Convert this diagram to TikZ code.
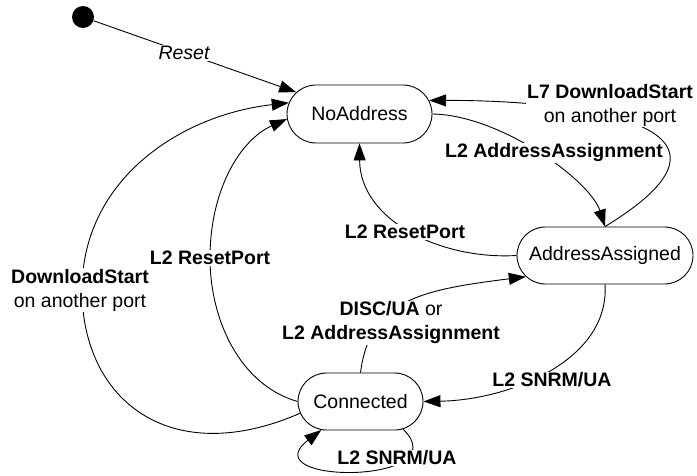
\documentclass[tikz,border=0pt]{standalone}
\usepackage{fontspec}
\setmainfont{Liberation Sans}
\usetikzlibrary{shapes.misc,arrows.meta}
\begin{document}
\begin{tikzpicture}[x=1pt,y=-1pt,
  state/.style={rounded rectangle, draw, line width=0.9pt, minimum height=57pt, inner sep=0pt, font=\fontsize{19.5}{24}\selectfont},
  lbl/.style={fill=white, inner sep=1pt, align=center, font=\fontsize{19.5}{24}\selectfont},
  edge/.style={line width=0.9pt, -{Triangle[length=17pt,width=12pt]}}]
\useasboundingbox (0,0) rectangle (697,476);
\node[state, minimum width=145pt, minimum height=58pt] (NA) at (359.5,114) {\makebox[0pt]{NoAddress}};
\node[state, minimum width=176pt] (AA) at (605,255.5) {\makebox[0pt]{AddressAssigned}};
\node[state, minimum width=125pt] (CO) at (360.5,401.5) {\makebox[0pt]{Connected}};
\node[circle, fill, inner sep=0pt, minimum size=22pt] (init) at (83,17) {};
% edges
\draw[edge] (init) -- (NA.161);
\draw[edge] (AA.north) .. controls (780,120) and (560,100) .. (NA.11);
\draw[edge] (NA.east) .. controls (500,115) and (590,180) .. (AA.north);
\draw[edge] (AA.west) .. controls (440,260) and (360,220) .. (NA.south);
\draw[edge] (CO.west) .. controls (240,385) and (210,320) .. (210,258) .. controls (210,190) and (240,140) .. (NA.184);
\draw[edge] (CO.191) .. controls (170,470) and (82,400) .. (82,290) .. controls (82,180) and (180,115) .. (NA.171);
\draw[edge] (CO.north) .. controls (370,300) and (420,290) .. (AA.195);
\draw[edge] (AA.south) .. controls (610,360) and (510,400) .. (CO.east);
\draw[edge] (CO.327) .. controls (460,485) and (250,485) .. (CO.216);
% labels
\node[lbl] (lreset) at (184,53) {\itshape Reset};
\node[lbl] (ll7) at (610,105) {\bfseries L7 DownloadStart\\on another port};
\node[lbl] (laddr) at (554,153) {\bfseries L2 AddressAssignment};
\node[lbl] (lrp1) at (405,232) {\bfseries L2 ResetPort};
\node[lbl] (lrp2) at (210,258) {\bfseries L2 ResetPort};
\node[lbl] (ldl) at (80,290) {\bfseries DownloadStart\\on another port};
\node[lbl] (ldisc) at (391,323) {\textbf{DISC/UA} or\\\bfseries L2 AddressAssignment};
\node[lbl] (lsnrm) at (552,380) {\bfseries L2 SNRM/UA};
\node[lbl] (lloop) at (397,458) {\bfseries L2 SNRM/UA};
\end{tikzpicture}
\end{document}
